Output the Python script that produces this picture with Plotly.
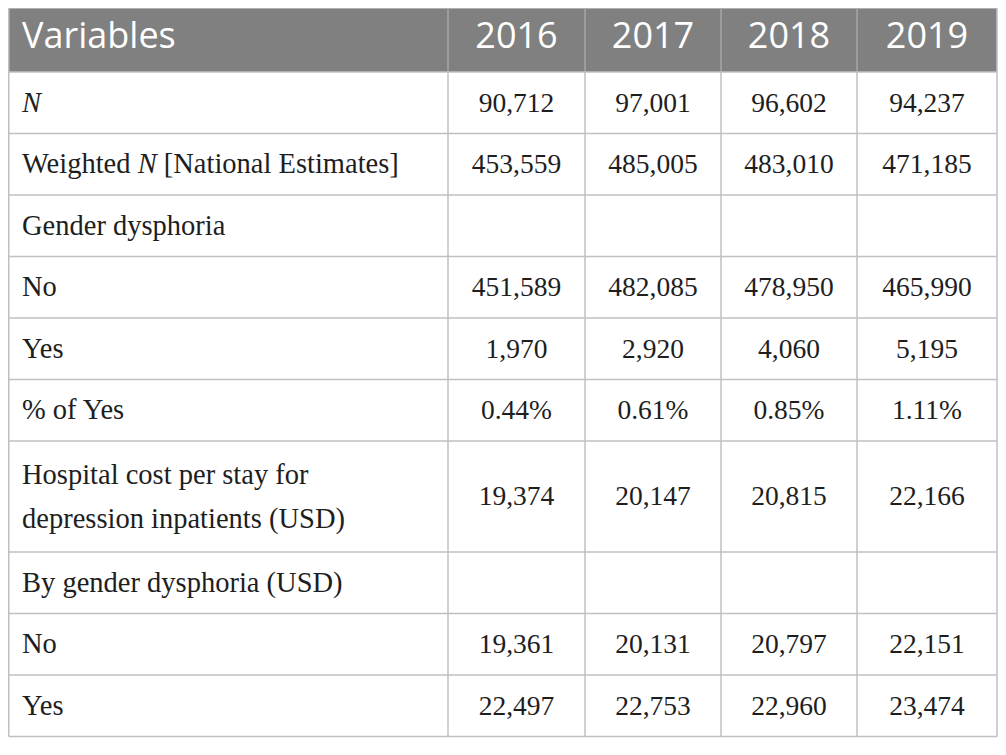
import plotly.graph_objects as go

# table content
years = ["2016", "2017", "2018", "2019"]
variables = [
    "<i>N</i>",
    "Weighted <i>N</i> [National Estimates]",
    "Gender dysphoria",
    "No",
    "Yes",
    "% of Yes",
    "Hospital cost per stay for<br>depression inpatients (USD)",
    "By gender dysphoria (USD)",
    "No",
    "Yes",
]
col_2016 = ["90,712", "453,559", "", "451,589", "1,970", "0.44%", "19,374", "", "19,361", "22,497"]
col_2017 = ["97,001", "485,005", "", "482,085", "2,920", "0.61%", "20,147", "", "20,131", "22,753"]
col_2018 = ["96,602", "483,010", "", "478,950", "4,060", "0.85%", "20,815", "", "20,797", "22,960"]
col_2019 = ["94,237", "471,185", "", "465,990", "5,195", "1.11%", "22,166", "", "22,151", "23,474"]
year_cols = [col_2016, col_2017, col_2018, col_2019]

# geometry (page pixels, the axes are mapped 1:1 onto the page)
col_edges = [8.75, 448, 585, 721, 857, 997]
header_top, header_bottom = 8, 72
row_h = 61.5      # one line of text
line_gap = 49.5   # extra height for every further line
line_step = 44    # spacing of text lines in a wrapped cell
grid = "#c0c0c0"
header_bg = "#808080"
header_grid = "#a6a6a6"
text_col = "#1e1e1e"

# row edges from the number of text lines in each row
row_edges = [header_bottom]
for v in variables:
    n_lines = v.count("<br>") + 1
    row_edges.append(row_edges[-1] + row_h + line_gap * (n_lines - 1))
row_mid = [(a + b) / 2 for a, b in zip(row_edges[:-1], row_edges[1:])]
col_mid = [(a + b) / 2 for a, b in zip(col_edges[:-1], col_edges[1:])]

fig = go.Figure()

# header
fig.add_shape(type="rect", x0=col_edges[0], x1=col_edges[-1], y0=header_top, y1=header_bottom,
              fillcolor=header_bg, line_width=0, layer="below")
fig.add_shape(type="line", x0=col_edges[0], x1=col_edges[-1], y0=header_top, y1=header_top,
              line=dict(color=grid, width=1.5), layer="below")
for x in col_edges[1:-1]:
    fig.add_shape(type="line", x0=x, x1=x, y0=header_top, y1=header_bottom,
                  line=dict(color=header_grid, width=1.5), layer="below")
for x in (col_edges[0], col_edges[-1]):
    fig.add_shape(type="line", x0=x, x1=x, y0=header_top, y1=header_bottom,
                  line=dict(color=grid, width=1.5), layer="below")

# body grid
for y in row_edges:
    fig.add_shape(type="line", x0=col_edges[0], x1=col_edges[-1], y0=y, y1=y,
                  line=dict(color=grid, width=1.5), layer="below")
for x in col_edges:
    fig.add_shape(type="line", x0=x, x1=x, y0=header_bottom, y1=row_edges[-1],
                  line=dict(color=grid, width=1.5), layer="below")

header_y = (4 + header_bottom) / 2 + 1
fig.add_trace(go.Scatter(
    x=[22] + col_mid[1:], y=[header_y] * 5, mode="text",
    text=["Variables"] + years,
    textposition=["middle right"] + ["middle center"] * 4,
    textfont=dict(family="Open Sans", size=36, color="white"),
    hoverinfo="skip", showlegend=False,
))

# first column, wrapped labels drawn line by line
lab_x, lab_y, lab_t = [], [], []
for v, ym in zip(variables, row_mid):
    lines = v.split("<br>")
    for i, line in enumerate(lines):
        lab_x.append(22)
        lab_y.append(ym + 2 + (i - (len(lines) - 1) / 2) * line_step)
        lab_t.append(line)
fig.add_trace(go.Scatter(
    x=lab_x, y=lab_y, mode="text", text=lab_t, textposition="middle right",
    textfont=dict(family="Liberation Serif", size=28.5, color=text_col),
    hoverinfo="skip", showlegend=False,
))

for xm, vals in zip(col_mid[1:], year_cols):
    fig.add_trace(go.Scatter(
        x=[xm] * len(vals), y=[y + 2 for y in row_mid], mode="text", text=vals,
        textposition="middle center",
        textfont=dict(family="Liberation Serif", size=27.5, color=text_col),
        hoverinfo="skip", showlegend=False,
    ))

fig.update_layout(
    width=990, height=739,
    margin=dict(l=0, r=0, t=0, b=0),
    paper_bgcolor="white", plot_bgcolor="white",
    xaxis=dict(range=[8, 998], visible=False, fixedrange=True),
    yaxis=dict(range=[747, 8], visible=False, fixedrange=True),
)
fig.write_html("out.html")
